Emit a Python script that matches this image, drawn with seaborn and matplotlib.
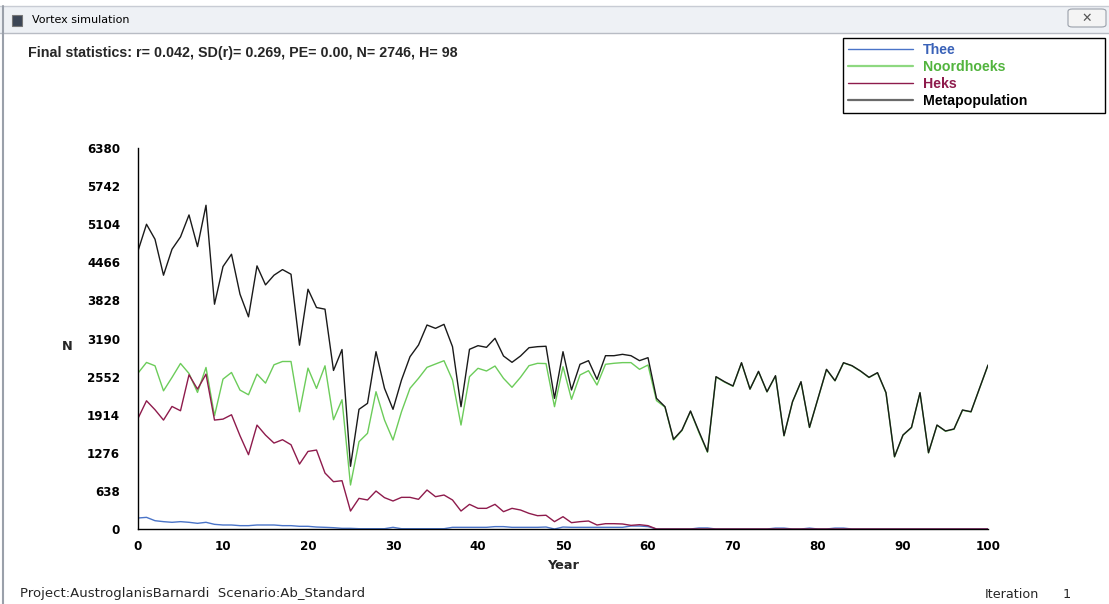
import numpy as np
import pandas as pd
import seaborn as sns
import matplotlib
matplotlib.use("Agg")
import matplotlib.pyplot as plt
from matplotlib.lines import Line2D
from matplotlib.patches import Rectangle, FancyBboxPatch

years = list(range(0, 101))

thee = [184, 195, 139, 123, 112, 123, 112, 95, 112, 78,
        67, 67, 56, 56, 67, 67, 67, 56, 56, 45,
        45, 33, 28, 22, 11, 11, 5, 5, 5, 5,
        28, 5, 5, 5, 5, 5, 5, 28, 28, 28,
        28, 28, 40, 40, 28, 28, 28, 28, 33, 0,
        33, 28, 28, 28, 28, 28, 28, 28, 50, 50,
        40, 0, 0, 0, 0, 0, 17, 17, 0, 0,
        0, 0, 0, 0, 0, 15, 15, 0, 0, 15,
        0, 0, 15, 15, 0, 0, 0, 0, 0, 0,
        0, 0, 0, 0, 0, 0, 0, 0, 0, 0,
        0]

noordhoeks = [2610, 2789, 2733, 2314, 2538, 2772, 2604, 2287, 2705, 1896,
              2510, 2621, 2326, 2248, 2593, 2443, 2750, 2805, 2805, 1963,
              2694, 2354, 2733, 1830, 2165, 737, 1462, 1602, 2299, 1825,
              1490, 1964, 2356, 2523, 2707, 2763, 2818, 2495, 1741, 2551,
              2691, 2646, 2729, 2523, 2373, 2540, 2735, 2774, 2770, 2048,
              2718, 2172, 2579, 2651, 2411, 2758, 2775, 2786, 2786, 2674,
              2746, 2150, 2040, 1490, 1650, 1970, 1612, 1285, 2545, 2460,
              2390, 2780, 2340, 2635, 2295, 2562, 1560, 2128, 2462, 1698,
              2184, 2670, 2480, 2781, 2731, 2642, 2536, 2614, 2279, 1207,
              1570, 1698, 2279, 1274, 1737, 1637, 1671, 1989, 1960, 2352,
              2742]

heks = [1852, 2147, 1997, 1824, 2052, 1980, 2582, 2342, 2593, 1824,
        1840, 1913, 1562, 1244, 1740, 1573, 1439, 1495, 1411, 1087,
        1299, 1322, 937, 792, 809, 301, 513, 486, 636, 525,
        469, 530, 530, 497, 653, 541, 569, 486, 301, 413,
        346, 346, 413, 290, 346, 318, 262, 223, 230, 123,
        206, 106, 123, 134, 67, 89, 89, 84, 61, 72,
        56, 0, 0, 0, 0, 0, 0, 0, 0, 0,
        0, 0, 0, 0, 0, 0, 0, 0, 0, 0,
        0, 0, 0, 0, 0, 0, 0, 0, 0, 0,
        0, 0, 0, 0, 0, 0, 0, 0, 0, 0,
        0]

metapop = [4657, 5103, 4852, 4250, 4685, 4891, 5259, 4729, 5421, 3764,
           4395, 4601, 3932, 3553, 4406, 4088, 4250, 4344, 4266, 3078,
           4015, 3709, 3681, 2655, 3005, 1050, 2004, 2104, 2969, 2356,
           2004, 2495, 2885, 3081, 3416, 3360, 3427, 3053, 2048, 3009,
           3070, 3042, 3193, 2897, 2791, 2897, 3036, 3053, 3060, 2188,
           2969, 2328, 2758, 2819, 2506, 2902, 2902, 2925, 2902, 2819,
           2869, 2188, 2048, 1502, 1658, 1976, 1630, 1295, 2551, 2467,
           2395, 2785, 2344, 2640, 2299, 2567, 1563, 2132, 2467, 1702,
           2188, 2674, 2484, 2785, 2735, 2646, 2540, 2618, 2283, 1211,
           1574, 1702, 2283, 1278, 1741, 1641, 1675, 1993, 1964, 2356,
           2746]

series_names = ["Thee", "Noordhoeks", "Heks", "Metapopulation"]
line_colors = ["#4a74c8", "#6ccc5a", "#8e1b4c", "#1a1a1a"]
legend_line_colors = ["#4a74c8", "#8ed880", "#8e1b4c", "#6a6a6a"]
text_colors = ["#3a62b8", "#52b43e", "#8e1b4c", "#000000"]
yticks = [0, 638, 1276, 1914, 2552, 3190, 3828, 4466, 5104, 5742, 6380]
xticks = list(range(0, 101, 10))

df = pd.DataFrame({
    "Year": years * 4,
    "N": thee + noordhoeks + heks + metapop,
    "Population": sum([[n] * len(years) for n in series_names], []),
})

sns.set_style("white")
plt.rcParams["font.family"] = ["DejaVu Sans"]
ARIAL = ["Liberation Sans", "DejaVu Sans"]

W, H = 1109, 604
fig = plt.figure(figsize=(W / 100, H / 100), dpi=100)
fig.patch.set_facecolor("white")

def fx(px):
    return px / W

def fy(py):
    return 1 - py / H

ax = fig.add_axes([fx(138), fy(529), fx(988) - fx(138), fy(148) - fy(529)])
ax.set_facecolor("white")

sns.lineplot(data=df, x="Year", y="N", hue="Population", hue_order=series_names,
             palette=dict(zip(series_names, line_colors)), legend=False,
             linewidth=1.0, ax=ax, sort=False)

ax.set_xlim(0, 100)
ax.set_ylim(0, 6380)
ax.set_xticks(xticks)
ax.set_yticks(yticks)
ax.set_yticklabels([str(v) for v in yticks])
for s in ["top", "right"]:
    ax.spines[s].set_visible(False)
for s in ["left", "bottom"]:
    ax.spines[s].set_color("black")
    ax.spines[s].set_linewidth(1.0)
ax.tick_params(axis="y", direction="in", length=12, width=1, pad=13,
               labelsize=8.6, colors="black")
ax.tick_params(axis="x", direction="in", length=5.5, width=1, pad=8,
               labelsize=8.6, colors="black")
for lab in ax.get_xticklabels() + ax.get_yticklabels():
    lab.set_fontweight("bold")

ax.set_xlabel("Year", fontsize=9.3, fontweight="bold")
ax.xaxis.set_label_coords(0.5, -0.08)
ax.set_ylabel("N", fontsize=9.3, fontweight="bold", rotation=0, va="center", ha="center")
ax.yaxis.set_label_coords(-0.083, 0.478)

# window chrome
fig.patches.append(Rectangle((0, fy(33)), 1, fy(6) - fy(33), transform=fig.transFigure,
                             facecolor="#eef1f5", edgecolor="none", zorder=0))
fig.lines.append(Line2D([0, 1], [fy(33), fy(33)], transform=fig.transFigure,
                        color="#b8bcc4", linewidth=1))
fig.lines.append(Line2D([0, 1], [fy(6), fy(6)], transform=fig.transFigure,
                        color="#c8ccd4", linewidth=1))
fig.lines.append(Line2D([fx(3), fx(3)], [0, fy(6)], transform=fig.transFigure,
                        color="#9aa0aa", linewidth=1.5))
fig.patches.append(Rectangle((fx(12), fy(26)), fx(10), fy(15) - fy(26),
                             transform=fig.transFigure, facecolor="#3c4656",
                             edgecolor="#777777", linewidth=0.8))
fig.text(fx(32), fy(20), "Vortex simulation", fontsize=8, color="black",
         va="center", ha="left")
fig.patches.append(FancyBboxPatch((fx(1068), fy(27)), fx(38), fy(9) - fy(27),
                                  boxstyle="round,pad=0.0,rounding_size=0.004",
                                  transform=fig.transFigure, facecolor="#f4f4f4",
                                  edgecolor="#9aa0aa", linewidth=0.8))
fig.text(fx(1087), fy(18), "\u2715", fontsize=9, color="#555555",
         ha="center", va="center")

fig.text(fx(28), fy(53), "Final statistics: r= 0.042, SD(r)= 0.269, PE= 0.00, N= 2746, H= 98",
         fontsize=10.3, fontweight="bold", ha="left", va="center", family=ARIAL)
fig.text(fx(20), fy(594), "Project:AustroglanisBarnardi  Scenario:Ab_Standard",
         fontsize=9.5, ha="left", va="center")
fig.text(fx(985), fy(594), "Iteration", fontsize=9.2, ha="left", va="center")
fig.text(fx(1067), fy(594), "1", fontsize=9.2, ha="center", va="center")

# legend
handles = [Line2D([], [], color=c, linewidth=lw)
           for c, lw in zip(legend_line_colors, [1.0, 1.6, 1.0, 1.6])]
leg = fig.legend(handles, series_names, loc="upper left",
                 bbox_to_anchor=(fx(843), fy(112), fx(1105) - fx(843), fy(38) - fy(112)),
                 bbox_transform=fig.transFigure, mode="expand", frameon=True,
                 fancybox=False, edgecolor="black", framealpha=1,
                 prop={"family": ARIAL, "size": 10.2, "weight": "bold"},
                 handlelength=4.6, handletextpad=0.7,
                 labelspacing=0.2, borderpad=0.37, borderaxespad=0)
leg.get_frame().set_linewidth(1.0)
for t, c in zip(leg.get_texts(), text_colors):
    t.set_color(c)

fig.savefig("out.png", dpi=100, facecolor="white")
